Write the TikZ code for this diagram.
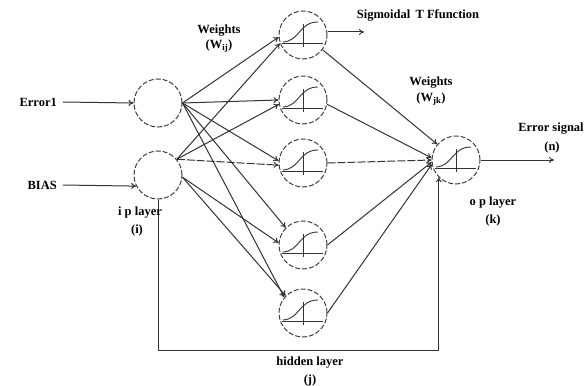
\documentclass[tikz,border=0pt]{standalone}
\usepackage{fontspec}
\setmainfont{Liberation Serif}
\usetikzlibrary{arrows.meta}

\tikzset{
  neuron/.style={circle,draw=black!75,line width=1pt,dash pattern=on 5pt off 2pt,
    minimum size=48pt,inner sep=0pt},
  wire/.style={draw=black!80,line width=1pt,-{To[length=5pt,width=6pt]}},
  curve/.style={draw=black!80,line width=0.9pt},
  lbl/.style={font=\fontsize{12.5}{13}\selectfont\bfseries,inner sep=0pt},
}

\begin{document}
\begin{tikzpicture}[x=1pt,y=-1pt]

\useasboundingbox (0,0) rectangle (588,385);

\node[neuron] (in1) at (158,103) {};
\node[neuron] (in2) at (158,175) {};

\node[neuron] (h1) at (303,35) {};
\node[neuron] (h2) at (303,100) {};
\node[neuron] (h3) at (303,163) {};
\node[neuron] (h4) at (303,245) {};
\node[neuron] (h5) at (303,313) {};

\node[neuron] (out) at (456,160) {};

\foreach \h in {h1,h2,h3,h4,h5} {
  \begin{scope}[shift={(\h)}]
    \draw[curve] (-21,8) -- (20,8) ;
    \draw[curve] (0,-11) -- (0,12) ;
    \draw[curve] (-20,7) .. controls (-3,6) and (-4,-13) .. (15,-13) ;
  \end{scope}
}

\begin{scope}[shift={(out)}]
  \draw[curve] (-21,8) -- (20,8) ;
  \draw[curve] (0,-11) -- (0,12) ;
  \draw[curve] (-20,7) .. controls (-3,6) and (-4,-13) .. (15,-13) ;
\end{scope}

\node[lbl,anchor=east] (err) at (57,102) {Error1};
\node[lbl,anchor=east] (bias) at (57,185) {BIAS};

\draw[wire] ([xshift=6pt]err.east) -- (in1.west) ;
\draw[wire] ([xshift=6pt]bias.east) -- (in2.207) ;

\draw[wire] (in1.east) -- (h1.185) ;
\draw[wire] (in1.east) -- (h2.180) ;
\draw[wire] (in1.east) -- (h3.175) ;
\draw[wire] (in1.east) -- (h4.135) ;
\draw[wire] (in1.east) -- (h5.140) ;

\draw[wire] (in2.40) -- (h1.200) ;
\draw[wire] (in2.40) -- (h2.190) ;
\draw[wire,dash pattern=on 8pt off 2pt] (in2.40) -- (h3.185) ;
\draw[wire] (in2.-5) -- (h4.175) ;
\draw[wire] (in2.-5) -- (h5.135) ;

\draw[wire] (h1.-37) -- (out.140) ;
\draw[wire] (h2.-10) -- (out.175) ;
\draw[wire,dash pattern=on 8pt off 2pt] (h3.east) -- (out.180) ;
\draw[wire] (h4.east) -- (out.185) ;
\draw[wire] (h5.east) -- (out.190) ;

\coordinate (fb) at (0,350) ;
\draw[wire] (in2.south) |- (fb -| out.225) -- (out.225) ;

\coordinate (sig) at (364,32) ;
\draw[wire] (h1.east |- sig) -- (sig) ;
\coordinate (res) at (554,160) ;
\draw[wire] (out.east) -- (res) ;

\node[lbl] (wij) at (219,31) {Weights} ;
\node[lbl] (wijs) at (219,46) {(W$_{\mathbf{ij}}$)} ;
\node[lbl] (sigf) at (418,15) {Sigmoidal\, T Ffunction} ;
\node[lbl] (wjk) at (431,83) {Weights} ;
\node[lbl] (wjks) at (431,99) {(W$_{\mathbf{jk}}$)} ;
\node[lbl] (esig) at (551,129) {Error signal} ;
\node[lbl] (esigs) at (552,147) {(n)} ;
\node[lbl] (opl) at (493,203) {o p layer} ;
\node[lbl] (opls) at (493,220) {(k)} ;
\node[lbl] (ipl) at (140,213) {i p layer} ;
\node[lbl] (ipls) at (137,230) {(i)} ;
\node[lbl] (hl) at (310,363) {hidden layer} ;
\node[lbl] (hls) at (310,380) {(j)} ;

\end{tikzpicture}
\end{document}
